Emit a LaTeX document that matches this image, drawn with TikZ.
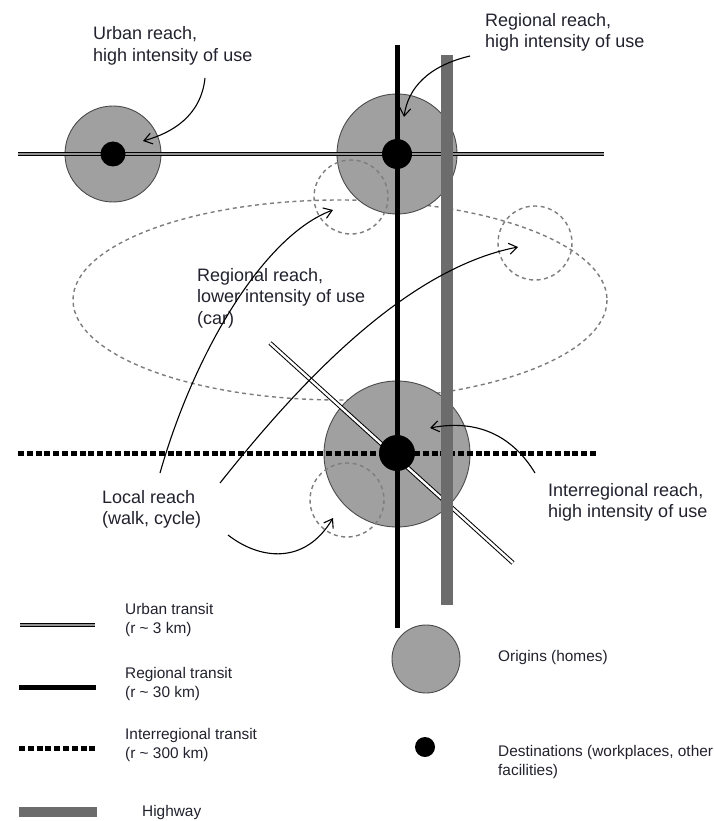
\documentclass[tikz,border=0pt]{standalone}
\usepackage{fontspec}
\setmainfont{Liberation Sans}
\usetikzlibrary{arrows.meta}

\definecolor{txt}{RGB}{34,34,46}
\definecolor{origin}{RGB}{160,160,160}
\definecolor{rim}{RGB}{75,75,75}
\definecolor{road}{RGB}{108,108,108}
\definecolor{reach}{RGB}{125,125,125}

\tikzset{
  homes/.style={fill=origin, draw=rim, line width=0.9pt},
  dest/.style={fill=black},
  urbanline/.style={draw=black, line width=1.15pt, double=black!42, double distance=2.3pt},
  urbandiag/.style={draw=black, line width=1pt, double=white, double distance=2.4pt},
  regline/.style={draw=black, line width=5pt},
  interline/.style={draw=black, line width=5pt, dash pattern=on 6pt off 2.8pt},
  hwy/.style={fill=road},
  reachring/.style={draw=reach, line width=1.4pt, dash pattern=on 4pt off 3.5pt},
  pointer/.style={draw=black, line width=1.1pt, -{Straight Barb[length=8pt,width=11pt,line width=1.1pt]}},
  lbl/.style={anchor=north west, inner sep=0pt, align=left, text=txt,
              font=\fontsize{18}{21.7}\selectfont},
  key/.style={anchor=north west, inner sep=0pt, align=left, text=txt,
              font=\fontsize{15.4}{19}\selectfont},
}

\begin{document}
\begin{tikzpicture}[x=1pt, y=-1pt]
\useasboundingbox (0,0) rectangle (713,821);
\fill[white] (0,0) rectangle (713,821);

% car reach: large dashed ellipse
\draw[reachring] (340,300) ellipse [x radius=267, y radius=100];

% origins (homes)
\draw[homes] (113,154) circle [radius=48];
\draw[homes] (397,154) circle [radius=60];
\draw[homes] (397,454) circle [radius=73];

% local reach rings
\draw[reachring] (351,197) circle [radius=37];
\draw[reachring] (535,243) circle [radius=37];
\draw[reachring] (347,500) circle [radius=37];

% urban transit
\draw[urbanline] (18,154) -- (604,154);
\draw[urbandiag] (270,343) -- (513,563);

% interregional transit
\draw[interline] (18,453) -- (598,453);

% regional transit
\draw[regline] (397,45) -- (397,628);

% highway
\fill[hwy] (441,55) rectangle (453,605);

% destinations
\fill[dest] (113,154) circle [radius=12.5];
\fill[dest] (397,154) circle [radius=15];
\fill[dest] (397,453) circle [radius=18];

% labels
\node[lbl] (urb) at (93,26.5) {Urban reach,\\high intensity of use};
\node[lbl] (regh) at (485,13) {Regional reach,\\high intensity of use};
\node[lbl] (regl) at (197,268) {Regional reach,\\lower intensity of use\\(car)};
\node[lbl] (loc) at (102,490) {Local reach\\(walk, cycle)};
\node[lbl] (inter) at (548,483) {Interregional reach,\\high intensity of use};

% arrow ends
\coordinate (urbS) at (205,78);   \coordinate (urbE) at (143,141);
\coordinate (reghS) at (470,56);  \coordinate (reghE) at (404,117);
\coordinate (carS) at (160,473);  \coordinate (carE) at (333,210);
\coordinate (car2S) at (220,483); \coordinate (car2E) at (518,247);
\coordinate (locS) at (228,535);  \coordinate (locE) at (333,518);
\coordinate (intS) at (535,473);  \coordinate (intE) at (430,428);

\draw[pointer] (urbS) .. controls (201,116) and (172,133) .. (urbE);
\draw[pointer] (reghS) .. controls (428,66) and (408,88) .. (reghE);
\draw[pointer] (carS) .. controls (195,350) and (265,235) .. (carE);
\draw[pointer] (car2S) .. controls (290,395) and (400,270) .. (car2E);
\draw[pointer] (locS) .. controls (260,560) and (305,565) .. (locE);
\draw[pointer] (intS) .. controls (515,440) and (482,418) .. (intE);

% legend
\draw[urbanline] (20,625) -- (95,625);
\node[key] (kurb) at (125,603) {Urban transit\\(r \textasciitilde{} 3 km)};
\draw[regline] (19,687) -- (96,687);
\node[key] (kreg) at (125,667) {Regional transit\\(r \textasciitilde{} 30 km)};
\draw[interline] (19,748) -- (95,748);
\node[key] (kint) at (125,728) {Interregional transit\\(r \textasciitilde{} 300 km)};
\fill[hwy] (19,807) rectangle (97,817);
\node[key] (khwy) at (142,805) {Highway};

\draw[homes] (426,659) circle [radius=34];
\node[key] (kori) at (498,650) {Origins (homes)};
\fill[dest] (425,747) circle [radius=10];
\node[key] (kdest) at (498,745) {Destinations (workplaces, other\\facilities)};
\end{tikzpicture}
\end{document}
